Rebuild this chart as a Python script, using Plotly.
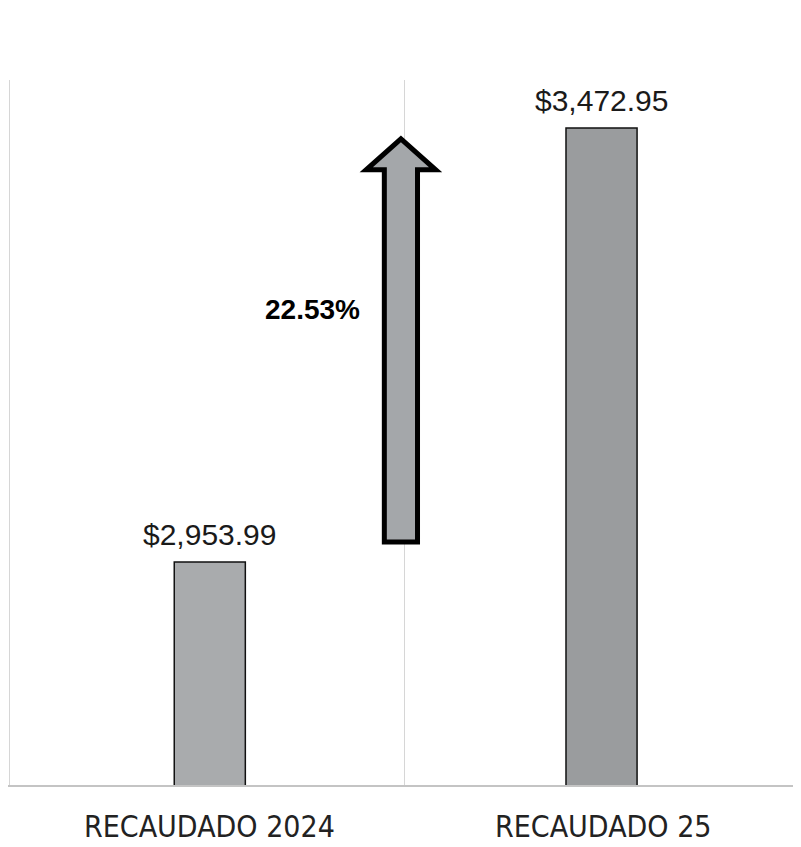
import plotly.graph_objects as go

categories = ["RECAUDADO 2024", "RECAUDADO 25"]
values = [2953.99, 3472.95]
value_labels = ["$2,953.99", "$3,472.95"]
growth_label = "22.53%"
bar_colors = ["#a9abad", "#9a9c9e"]

fig = go.Figure()
fig.add_trace(go.Bar(
    x=categories, y=values, width=0.18, offset=[-0.082, -0.09],
    marker=dict(color=bar_colors, line=dict(color="#111111", width=1.5)),
    hoverinfo="skip",
))

for c, v, t, dx in zip(categories, values, value_labels, [3, 0]):
    fig.add_annotation(x=c, y=v, text=t, showarrow=False, yanchor="bottom", yshift=9, xshift=dx,
                       font=dict(family="Liberation Sans, Arial", size=30, color="#1a1a1a"))

# category labels below the axis
for c, dx in zip(categories, [3, 2]):
    fig.add_annotation(x=c, y=0, xref="x", yref="paper", text=c, showarrow=False,
                       yanchor="middle", yshift=-41, xshift=dx,
                       font=dict(family="DejaVu Sans Condensed, DejaVu Sans", size=30, color="#222222"))

# growth arrow between the two bars
ax = 0.492
sw, hw = 0.042, 0.088
y_bot = values[0] + 24
y_tip = values[1] - 13
y_head = y_tip - 37
path = (f"M {ax-sw},{y_bot} L {ax+sw},{y_bot} L {ax+sw},{y_head} L {ax+hw},{y_head} "
        f"L {ax},{y_tip} L {ax-hw},{y_head} L {ax-sw},{y_head} Z")
fig.add_shape(type="path", path=path, xref="x", yref="y",
              fillcolor="#a4a7aa", line=dict(color="#000000", width=5), layer="above")
fig.add_annotation(x=0.267, y=3256, xref="x", yref="y", text=f"<b>{growth_label}</b>",
                   showarrow=False, font=dict(family="Liberation Sans, Arial", size=28, color="#000000"))

fig.update_layout(
    width=801, height=847,
    margin=dict(l=0, r=12, t=72, b=70),
    paper_bgcolor="white", plot_bgcolor="white",
    showlegend=False,
    xaxis=dict(type="category", range=[-0.503, 1.495], tickson="boundaries", showgrid=True,
               gridcolor="#d6d6d6", gridwidth=1.2, showline=True, linecolor="#c4c4c4", linewidth=1.5,
               ticks="", showticklabels=False),
    yaxis=dict(range=[2687.3, 3530.3], showgrid=False, showticklabels=False, zeroline=False,
               showline=False),
)

fig.write_html("out.html")
